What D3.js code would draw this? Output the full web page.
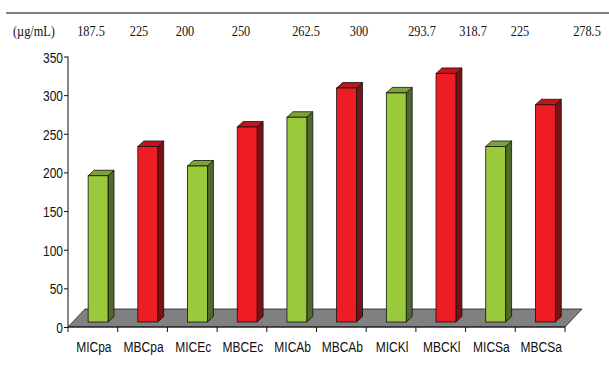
<!DOCTYPE html>
<html>
<head>
<meta charset="utf-8">
<script src="https://cdn.jsdelivr.net/npm/d3@7"></script>
<style>
  body { margin: 0; background: #fff; }
  svg { display: block; }
  .tick-label { font-family: "Liberation Sans", Arial, sans-serif; font-size: 15px; fill: #111; }
  .head { font-family: "Liberation Serif", "Times New Roman", serif; font-size: 14px; fill: #111; }
</style>
</head>
<body>
<svg id="chart"></svg>
<script>
// data
const categories = ['MICpa', 'MBCpa', 'MICEc', 'MBCEc', 'MICAb', 'MBCAb', 'MICKl', 'MBCKl', 'MICSa', 'MBCSa'];
const values = [187.5, 225, 200, 250, 262.5, 300, 293.7, 318.7, 225, 278.5];
const headerLabels = ['187.5', '225', '200', '250', '262.5', '300', '293.7', '318.7', '225', '278.5'];
const yTicks = [0, 50, 100, 150, 200, 250, 300, 350];
const unitLabel = '(µg/mL)';

// layout only: centres of the header numbers as they sit in the original
const headerX = [91, 139, 185, 241, 306, 359, 422, 473, 520, 587];

const W = 609, H = 365;
const squeeze = 0.8; // the original text is horizontally condensed
const svg = d3.select('#chart').attr('width', W).attr('height', H);

const x = d3.scaleBand().domain(categories).range([68, 565]).padding(0);
const y = d3.scaleLinear().domain([0, 350]).range([327, 56.5]);
// bars stand a bit back on the floor, so their base is raised a little
const yBar = d3.scaleLinear().domain([0, 350]).range([322, 49]);

const depth = { dx: 6, dy: -5.5 };
const floor = { dx: 17, dy: -18 };
const colors = {
  MIC: { front: '#9aca3c', top: '#7ba335', side: '#4f6a2b' },
  MBC: { front: '#ee1d24', top: '#c1161d', side: '#7a1116' }
};

// top rule
svg.append('line')
  .attr('x1', 6).attr('x2', W).attr('y1', 13).attr('y2', 13)
  .attr('stroke', '#555').attr('stroke-width', 1.5);

// header row
svg.append('text').attr('class', 'head')
  .attr('transform', `translate(13,36) scale(0.88,1)`)
  .text(unitLabel);
svg.selectAll('.hv').data(headerLabels).join('text')
  .attr('class', 'head hv')
  .attr('transform', (d, i) => `translate(${headerX[i]},36) scale(0.88,1)`)
  .attr('text-anchor', 'middle')
  .text(d => d);

// floor
const x0 = x.range()[0], x1 = x.range()[1], y0 = y(0);
svg.append('path')
  .attr('d', `M${x0},${y0} L${x0 + floor.dx},${y0 + floor.dy} L${x1 + floor.dx},${y0 + floor.dy} L${x1},${y0} Z`)
  .attr('fill', '#808080').attr('stroke', '#222').attr('stroke-width', 0.8);

// bars
const bars = svg.append('g');
categories.forEach((c, i) => {
  const col = c.startsWith('MIC') ? colors.MIC : colors.MBC;
  const bw = x.bandwidth() * 0.4;
  const bx = x(c) + x.bandwidth() * 0.405;
  const top = yBar(values[i]);
  const base = yBar(0);
  const g = bars.append('g');
  // side
  g.append('path')
    .attr('d', `M${bx + bw},${base} L${bx + bw + depth.dx},${base + depth.dy} L${bx + bw + depth.dx},${top + depth.dy} L${bx + bw},${top} Z`)
    .attr('fill', col.side).attr('stroke', '#111').attr('stroke-width', 0.8);
  // top
  g.append('path')
    .attr('d', `M${bx},${top} L${bx + depth.dx},${top + depth.dy} L${bx + bw + depth.dx},${top + depth.dy} L${bx + bw},${top} Z`)
    .attr('fill', col.top).attr('stroke', '#111').attr('stroke-width', 0.8);
  // front
  g.append('rect')
    .attr('x', bx).attr('y', top).attr('width', bw).attr('height', base - top)
    .attr('fill', col.front).attr('stroke', '#111').attr('stroke-width', 0.8);
});

// y axis
const yAxis = d3.axisLeft(y).tickValues(yTicks).tickSize(4).tickPadding(2);
const yG = svg.append('g').attr('transform', `translate(${x0},0)`).call(yAxis);
yG.select('.domain').attr('stroke', '#111').attr('d', `M0,${y(0)}V${y(350)}`);
yG.selectAll('.tick line').attr('stroke', '#111');
yG.selectAll('.tick text')
  .attr('class', 'tick-label').attr('fill', null)
  .attr('x', null).attr('dy', null)
  .attr('transform', `translate(-5,5.5) scale(${squeeze},1)`);

// x axis: ticks on band edges, labels in the middle
const xAxisG = svg.append('g');
xAxisG.append('line')
  .attr('x1', x0).attr('x2', x1).attr('y1', y0).attr('y2', y0)
  .attr('stroke', '#111');
const edges = categories.map(c => x(c)).concat([x1]);
xAxisG.selectAll('.xt').data(edges).join('line')
  .attr('class', 'xt')
  .attr('x1', d => d).attr('x2', d => d)
  .attr('y1', y0).attr('y2', y0 + 5)
  .attr('stroke', '#111');
xAxisG.selectAll('.xl').data(categories).join('text')
  .attr('class', 'tick-label xl')
  .attr('transform', d => `translate(${x(d) + x.bandwidth() / 2 + 1},352) scale(${squeeze},1)`)
  .attr('text-anchor', 'middle')
  .text(d => d);
</script>
</body>
</html>
